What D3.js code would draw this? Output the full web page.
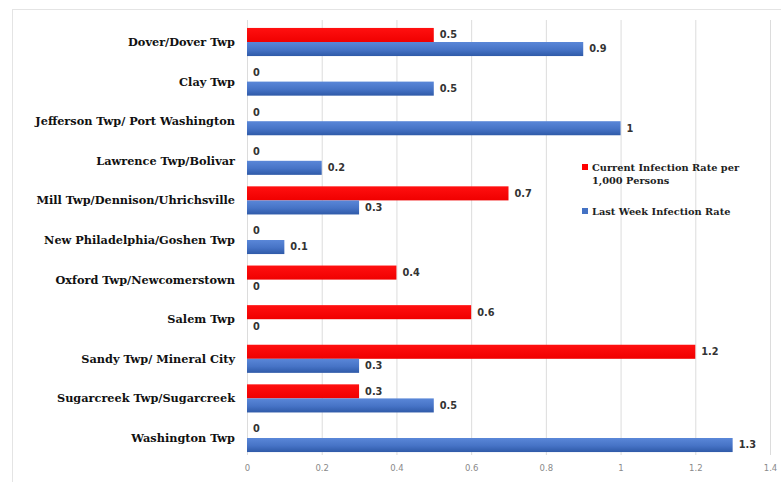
<!DOCTYPE html>
<html>
<head>
<meta charset="utf-8">
<script src="https://cdn.jsdelivr.net/npm/d3@7"></script>
<style>
  body { margin: 0; background: #fff; }
  svg { display: block; }
</style>
</head>
<body>
<svg id="chart" width="781" height="482"></svg>
<script>
// les données
const areas = ["Dover/Dover Twp", "Clay Twp", "Jefferson Twp/ Port Washington", "Lawrence Twp/Bolivar",
  "Mill Twp/Dennison/Uhrichsville", "New Philadelphia/Goshen Twp", "Oxford Twp/Newcomerstown",
  "Salem Twp", "Sandy Twp/ Mineral City", "Sugarcreek Twp/Sugarcreek", "Washington Twp"];
const currentRate = [0.5, 0, 0, 0, 0.7, 0, 0.4, 0.6, 1.2, 0.3, 0];
const lastWeekRate = [0.9, 0.5, 1, 0.2, 0.3, 0.1, 0, 0, 0.3, 0.5, 1.3];
const xTicks = [0, 0.2, 0.4, 0.6, 0.8, 1, 1.2, 1.4];
const seriesNames = ["Current Infection Rate per|1,000 Persons", "Last Week Infection Rate"];

const svg = d3.select("#chart");
const serif = "'DejaVu Serif', serif";
const sans = "'DejaVu Sans', sans-serif";

// cadre gris clair
svg.append("rect")
  .attr("x", 12.5).attr("y", 9.5).attr("width", 800).attr("height", 500)
  .attr("fill", "none").attr("stroke", "#e4e4e4");

const defs = svg.append("defs");
const gradBlue = defs.append("linearGradient").attr("id", "gBlue")
  .attr("x1", 0).attr("y1", 0).attr("x2", 0).attr("y2", 1);
gradBlue.append("stop").attr("offset", "0%").attr("stop-color", "#5a87d8");
gradBlue.append("stop").attr("offset", "55%").attr("stop-color", "#4673c6");
gradBlue.append("stop").attr("offset", "100%").attr("stop-color", "#2f5aa8");
const gradRed = defs.append("linearGradient").attr("id", "gRed")
  .attr("x1", 0).attr("y1", 0).attr("x2", 0).attr("y2", 1);
gradRed.append("stop").attr("offset", "0%").attr("stop-color", "#ff1010");
gradRed.append("stop").attr("offset", "100%").attr("stop-color", "#f00000");

const x = d3.scaleLinear().domain([0, 1.4]).range([247, 770]);
const y = d3.scaleBand().domain(areas).range([22, 458]).paddingInner(0.29).paddingOuter(0.15);
const ySub = d3.scaleBand().domain([0, 1]).range([0, y.bandwidth()]);
const fills = ["url(#gRed)", "url(#gBlue)"];
const legendColors = ["#ff0000", "#4472c4"];

// grille verticale
svg.append("g")
  .selectAll("line")
  .data(xTicks)
  .join("line")
  .attr("x1", d => x(d) + 0.5).attr("x2", d => x(d) + 0.5)
  .attr("y1", 20).attr("y2", 455)
  .attr("stroke", "#dcdcdc");

// axe x
const xAxis = svg.append("g")
  .attr("transform", "translate(0,457)")
  .call(d3.axisBottom(x).tickValues(xTicks).tickSize(0).tickPadding(8).tickFormat(d3.format("~g")));
xAxis.select(".domain").remove();
xAxis.selectAll("text").attr("font-family", sans).attr("font-size", 8.5).attr("fill", "#8a8a8a");

// barres
const rows = areas.map((a, i) => ({ area: a, vals: [currentRate[i], lastWeekRate[i]] }));
const grp = svg.append("g").selectAll("g")
  .data(rows)
  .join("g")
  .attr("transform", d => `translate(0,${y(d.area)})`);

grp.selectAll("rect")
  .data(d => d.vals.map((v, s) => ({ v, s })))
  .join("rect")
  .attr("x", x(0))
  .attr("y", d => ySub(d.s))
  .attr("width", d => x(d.v) - x(0))
  .attr("height", ySub.bandwidth())
  .attr("fill", d => fills[d.s]);

grp.selectAll("text.val")
  .data(d => d.vals.map((v, s) => ({ v, s })))
  .join("text")
  .attr("class", "val")
  .attr("x", d => x(d.v) + 6)
  .attr("y", d => ySub(d.s) + ySub.bandwidth() / 2 - (d.v === 0 && d.s === 0 ? 2 : 0))
  .attr("dy", "0.35em")
  .attr("font-family", sans)
  .attr("font-size", 9.8)
  .attr("font-weight", "bold")
  .attr("fill", "#333")
  .text(d => d3.format("~g")(d.v));

// libellés des communes
svg.append("g").selectAll("text")
  .data(areas)
  .join("text")
  .attr("x", 235)
  .attr("y", d => y(d) + y.bandwidth() / 2)
  .attr("dy", "0.35em")
  .attr("text-anchor", "end")
  .attr("font-family", serif)
  .attr("font-size", 11.3)
  .attr("font-weight", "bold")
  .attr("fill", "#111")
  .text(d => d);

// légende
const legY = [167, 211];
const leg = svg.append("g").selectAll("g")
  .data(seriesNames)
  .join("g")
  .attr("transform", (d, i) => `translate(582,${legY[i]})`);
leg.append("rect")
  .attr("x", 0).attr("y", -3).attr("width", 6).attr("height", 6)
  .attr("fill", (d, i) => legendColors[i]);
leg.append("text")
  .attr("x", 10)
  .attr("font-family", serif)
  .attr("font-size", 9.8)
  .attr("font-weight", "bold")
  .attr("fill", "#222")
  .selectAll("tspan")
  .data(d => d.split("|"))
  .join("tspan")
  .attr("x", 10)
  .attr("y", (d, i) => 3.5 + i * 13)
  .text(d => d);
</script>
</body>
</html>
